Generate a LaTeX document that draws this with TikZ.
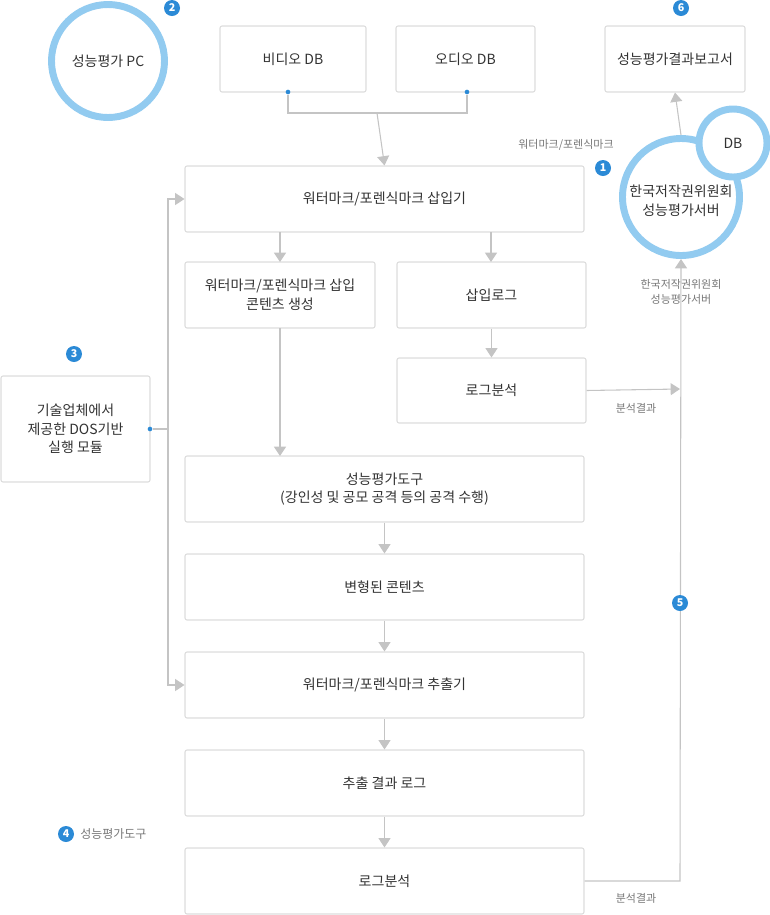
\documentclass[tikz,border=0pt]{standalone}
\usepackage{fontspec}
\setmainfont{Noto Sans CJK KR}
\usetikzlibrary{arrows.meta}
\definecolor{bd}{HTML}{DDDDDD}
\definecolor{ln}{HTML}{C4C4C4}
\definecolor{cb}{HTML}{92CBF0}
\definecolor{bb}{HTML}{2B8AD6}
\definecolor{tx}{HTML}{333333}
\definecolor{gt}{HTML}{777777}
\begin{document}
\begin{tikzpicture}[x=0.75pt,y=-0.75pt,
  box/.style={draw=bd,line width=0.8pt,rounded corners=1.5pt,fill=white,align=center,font=\fontsize{10.5}{14}\selectfont,text=tx,inner sep=0pt},
  conn/.style={draw=ln,line width=0.8pt},
  arr/.style={conn,-{Triangle[width=9pt,length=7pt]},shorten >=0pt},
  ring/.style={draw=cb,line width=5.2pt,circle,fill=white,align=center,font=\fontsize{10.5}{14}\selectfont,text=tx,inner sep=0pt},
  badge/.style={circle,fill=bb,text=white,inner sep=0pt,minimum size=12pt,font=\fontsize{8}{8}\selectfont\bfseries},
  lbl/.style={text=gt,font=\fontsize{8.25}{11}\selectfont,align=center,inner sep=0pt},
  dot/.style={circle,fill=bb,inner sep=0pt,minimum size=3.5pt}]
\useasboundingbox (0,0) rectangle (769,915);
\def\bx#1#2#3#4#5#6{\node[box,minimum width={(#4-#2)*0.75pt},minimum height={(#5-#3)*0.75pt}] (#1) at ({(#2+#4)/2},{(#3+#5)/2}) {#6};}
\bx{vdb}{220}{26}{366}{92}{비디오 DB}
\bx{adb}{396}{26}{535}{92}{오디오 DB}
\bx{rep}{605}{26}{745}{92}{성능평가결과보고서}
\bx{ins}{185}{166}{584}{232}{워터마크/포렌식마크 삽입기}
\bx{gen}{185}{262}{375}{328}{워터마크/포렌식마크 삽입\\콘텐츠 생성}
\bx{ilog}{397}{262}{586}{328}{삽입로그}
\bx{la}{397}{358}{586}{423}{로그분석}
\bx{dos}{1}{376}{150}{482}{기술업체에서\\제공한 DOS기반\\실행 모듈}
\bx{tool}{185}{456}{584}{522}{성능평가도구\\(강인성 및 공모 공격 등의 공격 수행)}
\bx{mod}{185}{554}{584}{620}{변형된 콘텐츠}
\bx{ext}{185}{652}{584}{718}{워터마크/포렌식마크 추출기}
\bx{elog}{185}{750}{584}{816}{추출 결과 로그}
\bx{lb}{185}{848}{584}{914}{로그분석}
\node[ring,minimum size={113*0.75pt}] (pc) at (108,61) {성능평가 PC};
\node[ring,minimum size={117*0.75pt}] (srv) at (681,197) {\\한국저작권위원회\\성능평가서버};
\node[ring,minimum size={68*0.75pt}] (db) at (733,143) {DB};
\node[badge] (b2) at (172,8) {2};
\node[badge] (b6) at (681,8) {6};
\node[badge] (b1) at (603,168) {1};
\node[badge] (b3) at (74,354) {3};
\node[badge] (b4) at (66,834) {4};
\node[lbl,anchor=west] (l4) at (80,834) {\fontsize{9}{11}\selectfont 성능평가도구};
\node[lbl] (l1) at (566,145) {워터마크/포렌식마크};
\node[lbl] (l2) at (681,292) {한국저작권위원회\\성능평가서버};
\node[lbl] (l3) at (636,408) {분석결과};
\node[lbl] (l5) at (636,898) {분석결과};
% DB merge
\coordinate (m1) at (288,113); \coordinate (m2) at (467,113); \coordinate (m) at (377,113);
\node[dot] (d1) at (288,92) {}; \node[dot] (d2) at (467,92) {};
\draw[conn] (d1) |- (m2) -- (d2);
\draw[arr] (m) -- (ins.north);
\draw[arr] (280,232) -- (280,262);
\draw[arr] (491,232) -- (491,262);
\draw[arr] (280,328) -- (280,456);
\draw[arr] (ilog) -- (la);
\draw[arr] (tool) -- (mod);
\draw[arr] (mod) -- (ext);
\draw[arr] (ext) -- (elog);
\draw[arr] (elog) -- (lb);
\coordinate (r1) at (680,389);
\draw[arr] (la.east) -- (r1);
\coordinate (c5) at (680,881);
\draw[arr] (lb.east) -- (c5) -- (srv.south);
\node[badge] (b5) at (680,603) {5};
\draw[arr] (srv.north) -- (rep.south);
% left bracket
\node[dot] (d3) at (150,429) {};
\coordinate (k) at (168,429);
\draw[conn] (d3) -- (k);
\draw[arr] (k) |- (ins.west);
\draw[arr] (k) |- (ext.west);
\end{tikzpicture}
\end{document}
